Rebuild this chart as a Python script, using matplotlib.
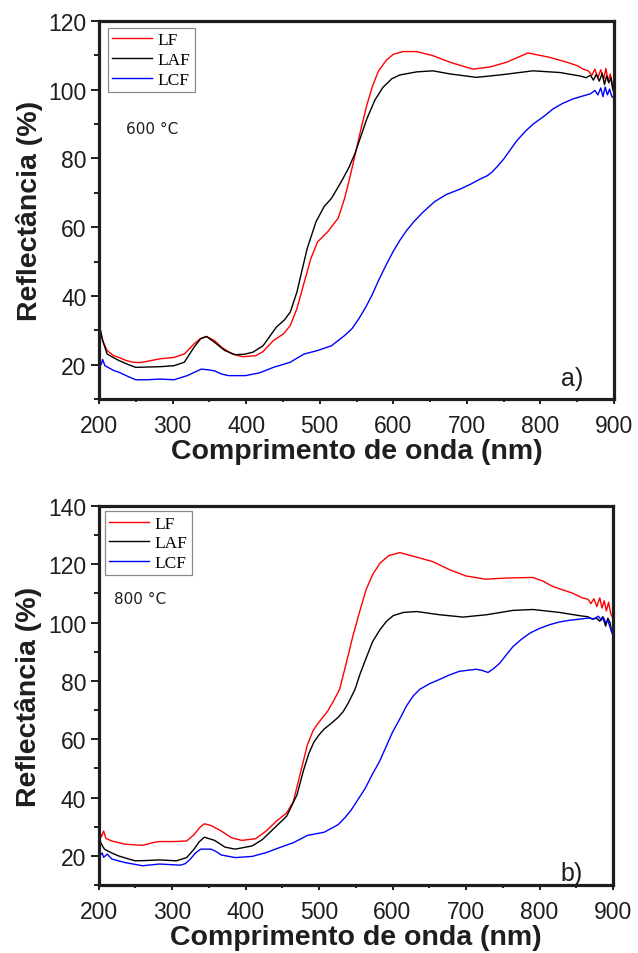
import matplotlib
matplotlib.use('Agg')
import matplotlib.pyplot as plt
from matplotlib.ticker import MultipleLocator
from matplotlib.font_manager import FontProperties

# ---------------- data: panel a) 600 °C ----------------
lf600_wl = [200, 205, 211, 220, 227, 237, 246, 255, 264, 283, 302, 316, 329, 338, 346, 357, 367, 381,
            395, 413, 423, 437, 451, 460, 469, 479, 488, 497, 511, 525, 534, 541, 548, 556, 564, 572,
            580, 591, 600, 613, 632, 654, 677, 708, 731, 754, 783, 813, 836, 850, 858, 865, 870, 874,
            878, 882, 886, 889, 892, 895, 898, 900]
lf600_r = [31.5, 27, 24.1, 22.6, 22.1, 21.2, 20.7, 20.6, 20.9, 21.7, 22.1, 23.1, 26, 27.6, 28.2, 27, 25,
           23.1, 22.3, 22.6, 23.8, 27, 29, 31.4, 36.3, 44, 50.9, 55.7, 58.7, 62.6, 68.5, 74.5, 81, 88.5,
           95.5, 101.2, 105.5, 108.7, 110.3, 111.1, 111.1, 109.9, 108, 106, 106.6, 108, 110.7, 109.4,
           108, 107, 106, 105.5, 104.2, 106, 103.4, 105.8, 103, 106.2, 102.5, 104.6, 101, 102]

laf600_wl = [200, 205, 211, 220, 227, 240, 250, 265, 283, 302, 316, 329, 338, 346, 357, 371, 385, 397,
             409, 423, 441, 452, 460, 469, 476, 483, 495, 506, 516, 530, 540, 548, 556, 564, 575, 586,
             598, 609, 632, 654, 677, 713, 745, 790, 827, 840, 854, 862, 868, 872, 876, 880, 884, 887,
             890, 893, 896, 898, 900]
laf600_r = [32, 27, 23.1, 22, 21.2, 20, 19.2, 19.3, 19.4, 19.7, 20.7, 25, 27.5, 28.2, 26.5, 24.1, 22.9,
            23, 23.6, 25.5, 30.9, 33, 35.3, 41.1, 47.5, 53.8, 61.6, 66, 68.4, 73.5, 77.5, 81.5, 86.5,
            91.5, 97, 100.7, 103.2, 104.3, 105.2, 105.5, 104.6, 103.6, 104.3, 105.5, 105, 104.5, 104,
            103.5, 104.2, 102.8, 104.5, 102.5, 104.8, 101.5, 104, 102, 103.5, 100.5, 99]

lcf600_wl = [200, 203, 205, 208, 214, 220, 227, 240, 250, 265, 283, 302, 320, 330, 339, 348, 357, 366,
             376, 399, 418, 437, 460, 470, 479, 497, 516, 534, 544, 553, 562, 571, 580, 590, 600, 609,
             618, 628, 640, 656, 672, 691, 705, 718, 728, 734, 742, 750, 760, 768, 780, 790, 805, 817,
             830, 844, 858, 868, 874, 878, 882, 885, 888, 891, 894, 897, 900]
lcf600_r = [22, 20, 21.5, 19.7, 19, 18.3, 17.8, 16.5, 15.6, 15.6, 15.8, 15.6, 16.8, 17.8, 18.7, 18.5,
            18.2, 17.3, 16.8, 16.8, 17.6, 19.2, 20.7, 22, 23.1, 24.1, 25.5, 28.5, 30.5, 33.3, 36.5, 40.2,
            44.5, 48.9, 53, 56.2, 59, 61.6, 64.3, 67.4, 69.5, 71.1, 72.5, 74, 75, 76, 77.8, 79.8, 82.8,
            85.2, 88, 90, 92.3, 94.4, 96, 97.3, 98.2, 98.8, 99.8, 98.5, 100.5, 98, 100.8, 98.5, 100.2,
            98, 97.5]

# ---------------- data: panel b) 800 °C ----------------
lf800_wl = [200, 202, 204, 207, 210, 218, 236, 260, 275, 283, 302, 320, 330, 338, 344, 353, 367, 381,
            395, 414, 428, 442, 456, 465, 474, 484, 492, 498, 505, 512, 521, 528, 537, 546, 555, 564,
            573, 583, 595, 610, 628, 655, 678, 700, 727, 755, 791, 805, 818, 832, 845, 858, 866, 870,
            874, 878, 882, 885, 888, 891, 894, 897, 900]
lf800_r = [34, 28, 26.5, 28.5, 26, 25.1, 24, 23.6, 24.6, 24.9, 24.9, 25.1, 27.3, 29.8, 31, 30.4, 28.5,
           26.2, 25.3, 25.9, 28.5, 31.9, 34.7, 38.6, 47.7, 57.9, 63, 65.2, 67.5, 69.7, 73.7, 77.1, 86,
           95.3, 103.5, 111.3, 116.5, 120.4, 123, 124, 122.8, 120.9, 118.1, 116, 114.9, 115.3, 115.5,
           114.2, 112.4, 111.2, 110.1, 108.5, 108, 106.5, 108.2, 105.5, 108.5, 105, 107.5, 104, 107,
           103, 101.5]

laf800_wl = [200, 203, 208, 218, 227, 240, 250, 265, 283, 306, 320, 330, 337, 344, 358, 372, 386, 409,
             423, 442, 456, 470, 479, 486, 493, 500, 507, 516, 526, 533, 540, 549, 556, 565, 573, 583,
             592, 601, 615, 633, 664, 696, 728, 764, 791, 827, 854, 866, 872, 877, 882, 886, 890, 893,
             896, 898, 900]
laf800_r = [29, 24.5, 22.3, 21, 20, 19, 18.3, 18.4, 18.6, 18.3, 19.4, 22.3, 24.8, 26.4, 25.3, 23, 22.3,
            23.4, 25.6, 30.2, 33.6, 40.9, 49.4, 55, 59, 61.5, 63.5, 65.3, 67.5, 69.5, 72.5, 77.1, 82.5,
            88.4, 93.5, 97.6, 100.5, 102.4, 103.5, 103.8, 102.7, 101.9, 102.7, 104.2, 104.5, 103.5,
            102.4, 102, 101.2, 101.6, 100.5, 102, 98.8, 101.5, 100, 97, 96]

lcf800_wl = [200, 202, 205, 207, 212, 218, 236, 260, 283, 311, 318, 325, 332, 339, 353, 360, 367, 386,
             409, 428, 446, 465, 475, 484, 507, 526, 535, 544, 553, 563, 572, 582, 591, 600, 610, 619,
             628, 637, 650, 664, 677, 691, 714, 722, 730, 738, 746, 755, 764, 775, 787, 800, 814, 827,
             841, 855, 868, 874, 880, 884, 887, 890, 893, 896, 898, 900]
lcf800_r = [22, 20, 21, 19.5, 20.6, 18.9, 17.7, 16.6, 17.2, 16.8, 17.3, 18.9, 21, 22.3, 22.3, 21.5, 20.3,
            19.4, 19.8, 21.1, 22.8, 24.5, 25.8, 27, 28.1, 30.7, 33, 35.8, 39.3, 43.2, 47.7, 52.2, 57.3,
            62.4, 67, 71.4, 74.8, 77.1, 79, 80.5, 82, 83.3, 84, 83.6, 82.9, 84.3, 86.1, 89, 91.8, 94.2,
            96.4, 98, 99.3, 100.2, 100.8, 101.2, 101.6, 101.2, 102.2, 100.8, 101.8, 100, 100.6, 98.5,
            97, 95.5]

labels = ["LF", "LAF", "LCF"]
colors = ["#ff0000", "#000000", "#0000ff"]

panels = [
    dict(series=[(lf600_wl, lf600_r), (laf600_wl, laf600_r), (lcf600_wl, lcf600_r)],
         ylim=(10, 120), temp="600 °C", tag="a)",
         rect=[99/638, 1-400/954, 515/638, 378/954],
         leg_anchor=(0.0175, 0.9815), temp_pos=(0.052, 0.716), tag_pos=(0.94, 0.037)),
    dict(series=[(lf800_wl, lf800_r), (laf800_wl, laf800_r), (lcf800_wl, lcf800_r)],
         ylim=(10, 140), temp="800 °C", tag="b)",
         rect=[98.5/638, 1-886/954, 514.5/638, 379/954],
         leg_anchor=(0.0126, 0.986), temp_pos=(0.030, 0.755), tag_pos=(0.942, 0.012)),
]

fig = plt.figure(figsize=(6.38, 9.54), dpi=100)
sans = "Liberation Sans"

for p in panels:
    ax = fig.add_axes(p["rect"])
    for (wl, r), lab, c in zip(p["series"], labels, colors):
        ax.plot(wl, r, color=c, lw=1.0, label=lab)
    ax.set_xlim(200, 900)
    ax.set_ylim(*p["ylim"])
    ax.xaxis.set_major_locator(MultipleLocator(100))
    ax.xaxis.set_minor_locator(MultipleLocator(50))
    ax.yaxis.set_major_locator(MultipleLocator(20))
    ax.yaxis.set_minor_locator(MultipleLocator(10))
    for s in ax.spines.values():
        s.set_linewidth(2.3)
        s.set_color("#1e1e1e")
    ax.tick_params(axis="both", which="both", direction="out", top=False, right=False,
                   color="#1e1e1e", width=1.4)
    ax.tick_params(axis="y", which="major", length=6, pad=3)
    ax.tick_params(axis="y", which="minor", length=3.5)
    ax.tick_params(axis="x", which="major", length=3.5, pad=7)
    ax.tick_params(axis="x", which="minor", length=2.5)
    for t in ax.get_xticklabels() + ax.get_yticklabels():
        t.set_fontfamily(sans)
        t.set_fontsize(16.5)
        t.set_color("#1e1e1e")
    ax.set_xlabel("Comprimento de onda (nm)", fontfamily=sans, fontweight="bold",
                  fontsize=20.5, color="#1e1e1e", labelpad=1)
    ax.set_ylabel("Reflectância (%)", fontfamily=sans, fontweight="bold",
                  fontsize=20.5, color="#1e1e1e", labelpad=4)
    leg = ax.legend(loc="upper left", bbox_to_anchor=p["leg_anchor"], borderaxespad=0,
                    prop=FontProperties(family="Liberation Serif", size=12.5),
                    frameon=True, fancybox=False, edgecolor="#8a8a8a", framealpha=1,
                    borderpad=0.25, handlelength=2.3, handletextpad=0.3, labelspacing=0.2)
    leg.get_frame().set_linewidth(0.9)
    ax.text(p["temp_pos"][0], p["temp_pos"][1], p["temp"], transform=ax.transAxes,
            fontfamily="DejaVu Sans", fontsize=11, ha="left", va="center", color="#1e1e1e")
    ax.text(p["tag_pos"][0], p["tag_pos"][1], p["tag"], transform=ax.transAxes,
            fontfamily=sans, fontsize=18, ha="right", va="baseline", color="#1e1e1e")

fig.savefig("out.png", dpi=100)
